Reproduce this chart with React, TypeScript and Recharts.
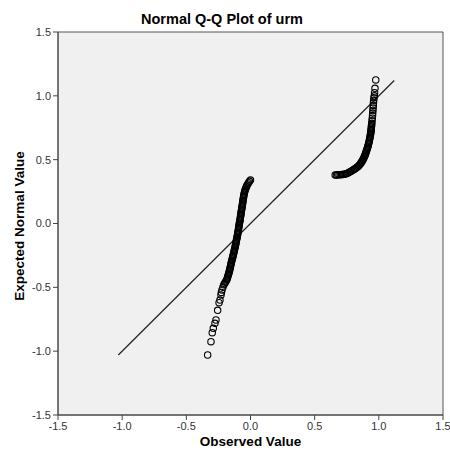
import { ScatterChart, Scatter, XAxis, YAxis, ReferenceArea, ReferenceLine } from 'recharts';

// observed value vs expected normal value, lower cluster
const lowObserved = [
  0.0, -0.008, -0.015, -0.021, -0.027, -0.031, -0.035, -0.039, -0.042, -0.045,
  -0.048, -0.05, -0.052, -0.054, -0.055, -0.057, -0.058, -0.06, -0.061, -0.063,
  -0.064, -0.066, -0.068, -0.069, -0.071, -0.072, -0.074, -0.075, -0.077, -0.078,
  -0.08, -0.081, -0.083, -0.085, -0.087, -0.088, -0.09, -0.091, -0.093, -0.094,
  -0.096, -0.098, -0.1, -0.101, -0.103, -0.105, -0.107, -0.109, -0.111, -0.113,
  -0.115, -0.117, -0.119, -0.121, -0.124, -0.126, -0.128, -0.13, -0.133, -0.135,
  -0.138, -0.14, -0.143, -0.145, -0.148, -0.15, -0.152, -0.155, -0.157, -0.159,
  -0.161, -0.164, -0.166, -0.169, -0.172, -0.175, -0.178, -0.181, -0.185, -0.19,
  -0.196, -0.202, -0.208, -0.215, -0.222, -0.227, -0.23, -0.238, -0.245, -0.256,
  -0.269, -0.277, -0.29, -0.298, -0.308, -0.334,
];
const lowExpected = [
  0.34, 0.33, 0.32, 0.31, 0.3, 0.29, 0.28, 0.27, 0.26, 0.25,
  0.24, 0.23, 0.22, 0.21, 0.2, 0.19, 0.18, 0.17, 0.16, 0.15,
  0.14, 0.13, 0.12, 0.11, 0.1, 0.09, 0.08, 0.07, 0.06, 0.05,
  0.04, 0.03, 0.02, 0.01, 0.0, -0.01, -0.02, -0.03, -0.04, -0.05,
  -0.06, -0.07, -0.08, -0.09, -0.1, -0.11, -0.12, -0.13, -0.14, -0.15,
  -0.16, -0.17, -0.18, -0.19, -0.2, -0.21, -0.22, -0.23, -0.24, -0.25,
  -0.26, -0.27, -0.28, -0.29, -0.3, -0.31, -0.32, -0.33, -0.34, -0.35,
  -0.36, -0.37, -0.38, -0.39, -0.4, -0.41, -0.42, -0.43, -0.44, -0.45,
  -0.46, -0.47, -0.48, -0.5, -0.52, -0.54, -0.56, -0.6, -0.62, -0.68,
  -0.756, -0.782, -0.821, -0.855, -0.926, -1.03,
];

// upper cluster
const highObserved = [
  0.66, 0.67, 0.68, 0.69, 0.7, 0.71, 0.72, 0.73, 0.74, 0.75,
  0.76, 0.77, 0.78, 0.79, 0.8, 0.808, 0.815, 0.823, 0.83, 0.838,
  0.845, 0.852, 0.858, 0.863, 0.868, 0.873, 0.877, 0.881, 0.885, 0.889,
  0.892, 0.895, 0.898, 0.901, 0.904, 0.907, 0.91, 0.913, 0.915, 0.918,
  0.92, 0.923, 0.925, 0.927, 0.929, 0.931, 0.933, 0.935, 0.936, 0.938,
  0.939, 0.94, 0.941, 0.942, 0.943, 0.944, 0.945, 0.947, 0.949, 0.951,
  0.952, 0.954, 0.955, 0.957, 0.958, 0.96, 0.962, 0.965, 0.967, 0.97,
  0.976,
];
const highExpected = [
  0.38, 0.38, 0.381, 0.381, 0.382, 0.383, 0.384, 0.386, 0.388, 0.392,
  0.396, 0.402, 0.408, 0.414, 0.42, 0.424, 0.428, 0.434, 0.44, 0.447,
  0.455, 0.462, 0.47, 0.478, 0.486, 0.494, 0.502, 0.51, 0.518, 0.526,
  0.535, 0.543, 0.552, 0.561, 0.57, 0.579, 0.588, 0.597, 0.606, 0.615,
  0.625, 0.635, 0.645, 0.655, 0.665, 0.675, 0.685, 0.695, 0.705, 0.715,
  0.725, 0.735, 0.745, 0.755, 0.765, 0.775, 0.785, 0.805, 0.825, 0.845,
  0.865, 0.885, 0.905, 0.925, 0.945, 0.965, 0.985, 1.0, 1.025, 1.059,
  1.125,
];

const axisTicks = [-1.5, -1.0, -0.5, 0.0, 0.5, 1.0, 1.5];
const diagonal = [-1.03, 1.12];

const points = [
  ...lowObserved.map((x, i) => ({ x, y: lowExpected[i] })),
  ...highObserved.map((x, i) => ({ x, y: highExpected[i] })),
];

const font = '"Liberation Sans", Arial, sans-serif';

const Ring = (props: any) => {
  const { cx, cy } = props;
  return <circle cx={cx} cy={cy} r={3.2} fill="none" stroke="#000" strokeWidth={1.1} />;
};

export default function App() {
  return (
    <div style={{ position: 'absolute', left: 0, top: 0, width: 450, height: 459, background: '#fff', fontFamily: font }}>
      <div style={{ position: 'absolute', top: 11, left: 0, width: 444, textAlign: 'center', fontSize: 14.5, fontWeight: 'bold', color: '#000' }}>
        Normal Q-Q Plot of urm
      </div>
      <div style={{ position: 'absolute', left: 19, top: 226, width: 0, height: 0 }}>
        <div style={{ position: 'absolute', transform: 'translate(-50%, -50%) rotate(-90deg)', whiteSpace: 'nowrap', fontSize: 13.5, fontWeight: 'bold', color: '#000' }}>
          Expected Normal Value
        </div>
      </div>
      <div style={{ position: 'absolute', top: 434, left: 58, width: 385, textAlign: 'center', fontSize: 13.5, fontWeight: 'bold', color: '#000' }}>
        Observed Value
      </div>
      <ScatterChart width={450} height={459} margin={{ top: 32, right: 7, bottom: 24, left: 30 }}>
        <XAxis
          type="number"
          dataKey="x"
          domain={[-1.5, 1.5]}
          ticks={axisTicks}
          tickFormatter={(v) => v.toFixed(1)}
          height={20}
          tickSize={5}
          stroke="#444"
          tick={{ fill: '#333', fontSize: 11, fontFamily: font }}
          allowDataOverflow
        />
        <YAxis
          type="number"
          dataKey="y"
          domain={[-1.5, 1.5]}
          ticks={axisTicks}
          tickFormatter={(v) => v.toFixed(1)}
          width={28}
          tickSize={5}
          stroke="#444"
          tick={{ fill: '#333', fontSize: 11, fontFamily: font }}
          allowDataOverflow
        />
        <ReferenceArea x1={-1.5} x2={1.5} y1={-1.5} y2={1.5} fill="#f0f0f0" fillOpacity={1} stroke="#555" strokeWidth={1} />
        <ReferenceLine
          segment={[{ x: diagonal[0], y: diagonal[0] }, { x: diagonal[1], y: diagonal[1] }]}
          stroke="#222"
          strokeWidth={1.2}
        />
        <Scatter data={points} shape={Ring} isAnimationActive={false} />
      </ScatterChart>
    </div>
  );
}
